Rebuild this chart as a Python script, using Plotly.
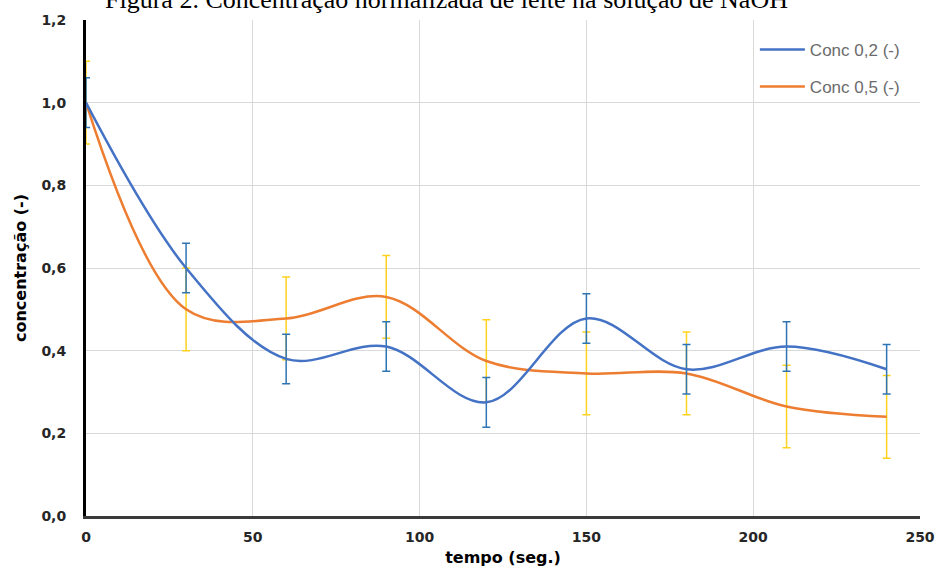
import plotly.graph_objects as go

tempo = [0, 30, 60, 90, 120, 150, 180, 210, 240]
conc_02 = [1.00, 0.60, 0.38, 0.41, 0.275, 0.478, 0.355, 0.41, 0.355]
err_02 = [0.06, 0.06, 0.06, 0.06, 0.06, 0.06, 0.06, 0.06, 0.06]
conc_05 = [1.00, 0.50, 0.478, 0.53, 0.375, 0.345, 0.345, 0.265, 0.24]
err_05 = [0.10, 0.10, 0.10, 0.10, 0.10, 0.10, 0.10, 0.10, 0.10]

fig = go.Figure()
fig.add_trace(go.Scatter(
    x=tempo, y=conc_05, mode="lines", name="Conc 0,5 (-)", legendgroup="b", legendrank=2,
    line=dict(color="#ED7D31", width=2.5, shape="spline", smoothing=1.0),
    error_y=dict(type="data", array=err_05, visible=True, color="#FFD21F", thickness=1.5, width=4),
))
fig.add_trace(go.Scatter(
    x=tempo, y=conc_02, mode="lines", name="Conc 0,2 (-)", legendgroup="a", legendrank=1,
    line=dict(color="#4472C4", width=2.5, shape="spline", smoothing=1.0),
    error_y=dict(type="data", array=err_02, visible=True, color="#2E75B6", thickness=1.5, width=4),
))

fig.add_annotation(
    text="Figura 2. Concentração normalizada de leite na solução de NaOH",
    xref="paper", yref="paper", x=0.432, y=1, yanchor="bottom", yshift=4, showarrow=False,
    font=dict(family="Liberation Serif, Times New Roman, serif", size=26, color="#000000"),
)

axis_font = dict(family="DejaVu Sans, Verdana, sans-serif", size=14, color="#262626", weight="bold")
title_font = dict(family="DejaVu Sans, Verdana, sans-serif", size=16, color="#000000", weight="bold")
fig.update_layout(
    width=942, height=581,
    margin=dict(l=86, r=22, t=20, b=65),
    paper_bgcolor="white", plot_bgcolor="white",
    separators=",.",
    showlegend=True,
    legend=dict(
        x=0.802, xanchor="left", y=0.976, yanchor="top",
        bgcolor="rgba(255,255,255,0)", borderwidth=0,
        font=dict(family="Liberation Sans, Arial, sans-serif", size=17, color="#6B6B6B"),
        tracegroupgap=12, traceorder="grouped", itemwidth=45,
    ),
    xaxis=dict(
        range=[0, 250], tickvals=[0, 50, 100, 150, 200, 250],
        showgrid=True, gridcolor="#D9D9D9", gridwidth=1,
        showline=True, linecolor="#3A3A3A", linewidth=3, zeroline=False,
        ticks="", tickfont=axis_font, ticklabelstandoff=6, automargin=False,
        title=dict(text="tempo (seg.)", standoff=9, font=title_font),
    ),
    yaxis=dict(
        range=[0, 1.2], tickvals=[0, 0.2, 0.4, 0.6, 0.8, 1.0, 1.2], tickformat=".1f",
        showgrid=True, gridcolor="#D9D9D9", gridwidth=1,
        showline=True, linecolor="#000000", linewidth=3, zeroline=False,
        ticks="", tickfont=axis_font, ticklabelstandoff=14, automargin=False,
        title=dict(text="concentração (-)", standoff=11, font=title_font),
    ),
)

fig.write_html("out.html", post_script="document.body.style.margin='0';",
               config={"displayModeBar": False})
